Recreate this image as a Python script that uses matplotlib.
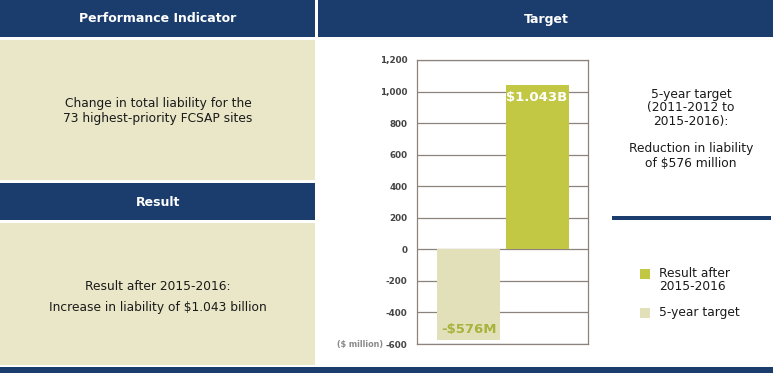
import matplotlib
matplotlib.use('Agg')
import matplotlib.pyplot as plt
from matplotlib import font_manager
from matplotlib.patches import Rectangle

# data
categories = ['5-year target', 'Result after\n2015-2016']
values = [-576, 1043]
bar_labels = ['-$576M', '$1.043B']
yticks = list(range(-600, 1201, 200))

W, H = 773, 374
NAVY = '#1b3d6e'
PANEL = '#e9e7c7'
BAR_COLORS = ['#e1e0b9', '#c2c843']
GRID = '#8c847c'

# condensed face for the bar labels if one is around
names = {f.name for f in font_manager.fontManager.ttflist}
if 'DejaVu Sans Condensed' in names:
    LABEL_FONT, LABEL_SIZE = 'DejaVu Sans Condensed', 11.5
elif 'Liberation Sans Narrow' in names:
    LABEL_FONT, LABEL_SIZE = 'Liberation Sans Narrow', 13
else:
    LABEL_FONT, LABEL_SIZE = 'DejaVu Sans', 9.5

plt.rcParams['font.family'] = ['DejaVu Sans']

fig = plt.figure(figsize=(W / 100, H / 100), dpi=100)
fig.patch.set_facecolor('white')


def box(x0, y0, x1, y1, color):
    # pixel coords, origin top-left
    fig.patches.append(Rectangle((x0 / W, 1 - y1 / H), (x1 - x0) / W, (y1 - y0) / H,
                                 transform=fig.transFigure, facecolor=color,
                                 edgecolor='none', zorder=0))


def txt(x, y, s, **kw):
    fig.text(x / W, 1 - y / H, s, **kw)


# panels
box(0, 0, 315, 37, NAVY)
box(318, 0, 773, 37, NAVY)
box(0, 40, 315, 180, PANEL)
box(0, 183, 315, 220, NAVY)
box(0, 223, 315, 365, PANEL)
box(0, 367, 773, 373, NAVY)
box(612, 216, 771, 220, NAVY)

hdr = dict(color='white', fontsize=9, fontweight='bold', ha='center', va='center')
txt(158, 19, 'Performance Indicator', **hdr)
txt(546, 19, 'Target', **hdr)
txt(158, 202, 'Result', **hdr)

body = dict(color='#1a1a1a', fontsize=8.8, ha='center', va='center')
txt(158, 111, 'Change in total liability for the\n73 highest-priority FCSAP sites',
    linespacing=1.25, **body)
txt(158, 287, 'Result after 2015-2016:', **body)
txt(158, 308, 'Increase in liability of $1.043 billion', **body)
txt(691, 108, '5-year target\n(2011-2012 to\n2015-2016):', linespacing=1.05, **body)
txt(691, 156, 'Reduction in liability\nof $576 million', linespacing=1.15, **body)

# chart
ax = fig.add_axes([417 / W, 1 - 344 / H, (588 - 417) / W, (344 - 60) / H])
x = list(range(len(values)))
bars = ax.bar(x, values, width=0.92, color=BAR_COLORS, zorder=2)
ax.set_xlim(-0.752, 1.744)
ax.set_ylim(-600, 1200)
ax.set_yticks(yticks)
ax.set_yticklabels(['{:,}'.format(v) for v in yticks])
ax.set_xticks([])
ax.tick_params(axis='y', length=0, pad=7, labelsize=6.3, labelcolor='#444444')
for lab in ax.get_yticklabels():
    lab.set_fontweight('bold')
ax.yaxis.grid(True, color=GRID, lw=0.9)
ax.set_axisbelow(True)
for sp in ax.spines.values():
    sp.set_color(GRID)
    sp.set_linewidth(0.9)

# bar value labels
ax.text(x[1], values[1] - 80, bar_labels[1], ha='center', va='center',
        color='white', fontsize=LABEL_SIZE, fontweight='bold', family=LABEL_FONT)
ax.text(x[0], values[0] + 70, bar_labels[0], ha='center', va='center',
        color='#a9b23c', fontsize=LABEL_SIZE, fontweight='bold', family=LABEL_FONT)

txt(383, 344, '($ million)', color='#8a8a8a', fontsize=5.8, fontweight='bold',
    ha='right', va='center')

# legend
for i, (cat, col) in enumerate(zip(categories[::-1], BAR_COLORS[::-1])):
    ytop = 269 + i * 39
    box(640, ytop, 650, ytop + 10, col)
    txt(659, ytop - 2, cat, color='#1a1a1a', fontsize=8.8, ha='left', va='top',
        linespacing=1.0)

fig.savefig('out.png', dpi=100)
